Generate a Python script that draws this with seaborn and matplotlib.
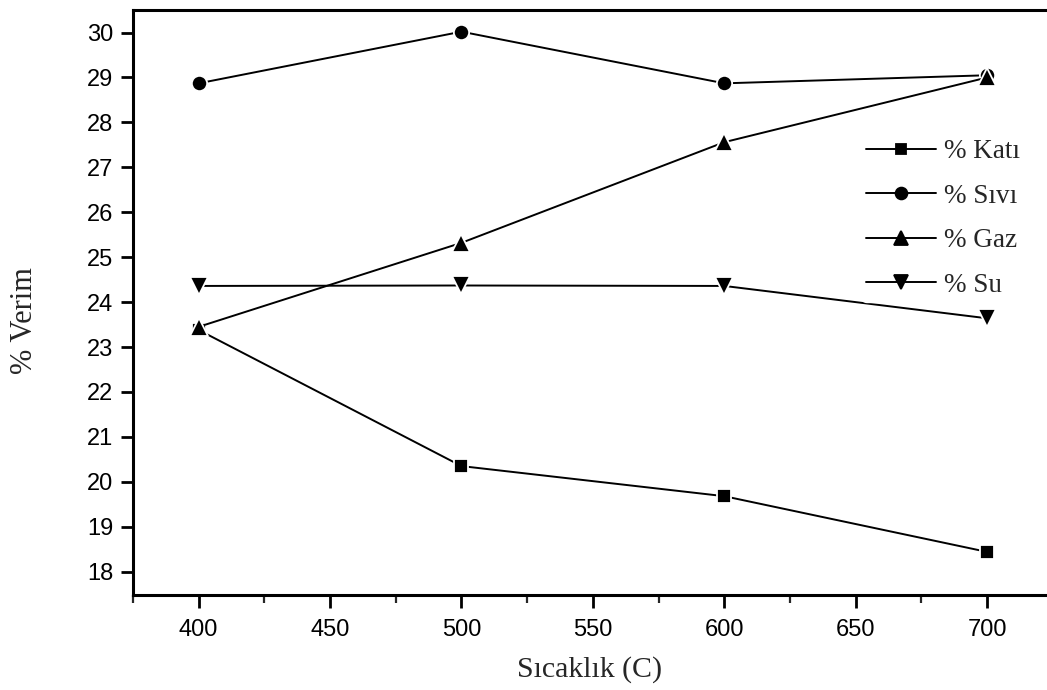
import matplotlib
matplotlib.use("Agg")
import matplotlib.pyplot as plt
import seaborn as sns
import pandas as pd
from matplotlib.ticker import MultipleLocator

temps = [400, 500, 600, 700]
kati = [23.38, 20.35, 19.68, 18.44]
sivi = [28.87, 30.02, 28.87, 29.05]
gaz = [23.45, 25.32, 27.56, 29.0]
su = [24.36, 24.37, 24.36, 23.64]
labels = ["% Katı", "% Sıvı", "% Gaz", "% Su"]
markers = ["s", "o", "^", "v"]
msizes = [9.5, 11, 12.5, 12.5]
leg_msizes = [7.5, 8.5, 10, 10]

sns.set_theme(style="white")
plt.rcParams["font.family"] = ["Liberation Sans", "DejaVu Sans"]
serif = ["Liberation Serif", "DejaVu Serif"]

fig = plt.figure(figsize=(10.47, 6.9), dpi=100)
ax = fig.add_axes([0.127, 0.137, 0.873, 0.849])

rows = []
for lab, vals in zip(labels, [kati, sivi, gaz, su]):
    for t, v in zip(temps, vals):
        rows.append({"T": t, "V": v, "S": lab})
df = pd.DataFrame(rows)

for lab, m, ms in zip(labels, markers, msizes):
    sub = df[df["S"] == lab]
    sns.lineplot(data=sub, x="T", y="V", ax=ax, color="black", marker=m,
                 markersize=ms, markeredgecolor="white", markeredgewidth=1.3,
                 linewidth=1.4, label=lab)

ax.set_xlim(375, 722.8)
ax.set_ylim(17.47, 30.51)
ax.xaxis.set_major_locator(MultipleLocator(50))
ax.xaxis.set_minor_locator(MultipleLocator(25))
ax.yaxis.set_major_locator(MultipleLocator(1))

for s in ["left", "bottom", "top"]:
    ax.spines[s].set_visible(True)
    ax.spines[s].set_color("black")
    ax.spines[s].set_linewidth(2.2)
ax.spines["right"].set_visible(False)

ax.tick_params(axis="both", which="major", direction="out", length=9, width=2,
               labelsize=17, colors="black", bottom=True, left=True, pad=5)
ax.tick_params(axis="x", which="major", pad=8)
ax.tick_params(axis="x", which="minor", direction="out", length=5.5, width=1.6,
               bottom=True)
ax.tick_params(axis="y", which="minor", left=False)

ax.set_xlabel("Sıcaklık (C)", fontsize=21.5, family=serif)
ax.set_ylabel("% Verim", fontsize=22, family=serif)
ax.xaxis.set_label_coords(0.5, -0.104)
ax.yaxis.set_label_coords(-0.103, 0.47)

leg = ax.legend(loc="upper left", bbox_to_anchor=(0.797, 0.786), frameon=True,
                prop={"family": serif, "size": 19.5},
                handlelength=2.6, handletextpad=0.3, labelspacing=0.72,
                borderpad=0.15, borderaxespad=0)
leg.get_frame().set_edgecolor("white")
leg.get_frame().set_facecolor("white")
leg.get_frame().set_alpha(1)
for h, ms in zip(leg.legend_handles, leg_msizes):
    h.set_markeredgecolor("black")
    h.set_markersize(ms)

fig.savefig("out.png", dpi=100)
